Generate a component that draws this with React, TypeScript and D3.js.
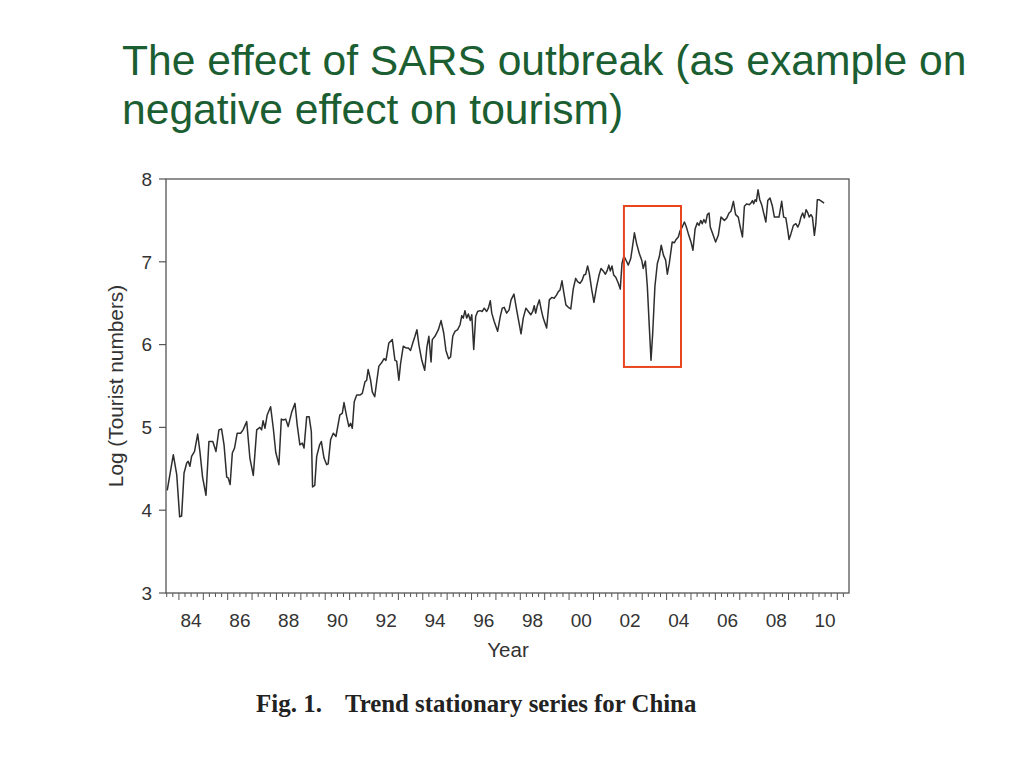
import React from "react";
import * as d3 from "d3";

const titleLines = ["The effect of SARS outbreak (as example on", "negative effect on tourism)"];
const captionLead = "Fig. 1.";
const captionText = "Trend stationary series for China";
const yAxisTitle = "Log (Tourist numbers)";
const xAxisTitle = "Year";

const labelYears = [1984, 1986, 1988, 1990, 1992, 1994, 1996, 1998, 2000, 2002, 2004, 2006, 2008, 2010];
const yTicks = [3, 4, 5, 6, 7, 8];
const xDomain = [1983.47, 2011.48];
const yDomain = [3, 8];

const boxYears = [2002.25, 2004.59];
const boxValues = [5.73, 7.674];

const years = [
  1983.52, 1983.77, 1983.91, 1984.03, 1984.11, 1984.21, 1984.32, 1984.38, 1984.45, 1984.52, 1984.64, 1984.77, 1984.86, 1984.97,
  1985.11, 1985.23, 1985.39, 1985.52, 1985.64, 1985.75, 1985.85, 1985.96, 1986.02, 1986.10, 1986.19, 1986.28, 1986.39, 1986.53,
  1986.63, 1986.78, 1986.91, 1987.05, 1987.19, 1987.32, 1987.39, 1987.45, 1987.53, 1987.62, 1987.76, 1987.87, 1987.97, 1988.10,
  1988.20, 1988.28, 1988.38, 1988.48, 1988.63, 1988.76, 1988.85, 1988.96, 1989.06, 1989.13, 1989.24, 1989.34, 1989.43, 1989.48,
  1989.57, 1989.65, 1989.77, 1989.84, 1989.95, 1990.06, 1990.12, 1990.22, 1990.33, 1990.44, 1990.60, 1990.70, 1990.77, 1990.88,
  1990.97, 1991.04, 1991.11, 1991.19, 1991.29, 1991.42, 1991.52, 1991.63, 1991.70, 1991.76, 1991.86, 1991.93, 1992.03, 1992.12,
  1992.20, 1992.31, 1992.41, 1992.49, 1992.61, 1992.75, 1992.86, 1992.93, 1993.02, 1993.09, 1993.20, 1993.31, 1993.41, 1993.50,
  1993.59, 1993.68, 1993.76, 1993.84, 1993.96, 1994.08, 1994.17, 1994.25, 1994.34, 1994.39, 1994.50, 1994.64, 1994.75, 1994.86,
  1994.95, 1995.06, 1995.14, 1995.23, 1995.32, 1995.43, 1995.53, 1995.60, 1995.66, 1995.73, 1995.80, 1995.87, 1995.95, 1996.01,
  1996.09, 1996.17, 1996.25, 1996.35, 1996.44, 1996.52, 1996.62, 1996.69, 1996.77, 1996.83, 1996.93, 1997.07, 1997.18, 1997.26,
  1997.34, 1997.44, 1997.54, 1997.62, 1997.74, 1997.85, 1997.95, 1998.03, 1998.12, 1998.23, 1998.33, 1998.43, 1998.51, 1998.57,
  1998.63, 1998.70, 1998.78, 1998.86, 1998.94, 1999.08, 1999.19, 1999.29, 1999.39, 1999.49, 1999.56, 1999.63, 1999.71, 1999.79,
  1999.87, 1999.97, 2000.07, 2000.17, 2000.27, 2000.35, 2000.45, 2000.54, 2000.61, 2000.68, 2000.76, 2000.83, 2000.93, 2001.02,
  2001.13, 2001.23, 2001.31, 2001.40, 2001.49, 2001.57, 2001.63, 2001.69, 2001.76, 2001.83, 2001.92, 2002.02, 2002.10, 2002.17,
  2002.25, 2002.35, 2002.43, 2002.53, 2002.59, 2002.68, 2002.77, 2002.88, 2002.98, 2003.04, 2003.13, 2003.21, 2003.29, 2003.36,
  2003.43, 2003.52, 2003.62, 2003.70, 2003.78, 2003.87, 2003.96, 2004.03, 2004.11, 2004.23, 2004.32, 2004.39, 2004.48, 2004.56,
  2004.64, 2004.73, 2004.80, 2004.89, 2005.00, 2005.08, 2005.17, 2005.26, 2005.33, 2005.40, 2005.46, 2005.53, 2005.60, 2005.67,
  2005.74, 2005.79, 2005.89, 2006.01, 2006.12, 2006.23, 2006.37, 2006.47, 2006.56, 2006.64, 2006.74, 2006.83, 2006.94, 2007.02,
  2007.11, 2007.19, 2007.29, 2007.39, 2007.46, 2007.52, 2007.57, 2007.63, 2007.68, 2007.75, 2007.82, 2007.90, 2007.98, 2008.07,
  2008.15, 2008.24, 2008.34, 2008.42, 2008.52, 2008.61, 2008.72, 2008.80, 2008.89, 2008.97, 2009.02, 2009.10, 2009.20, 2009.30,
  2009.38, 2009.44, 2009.51, 2009.58, 2009.65, 2009.72, 2009.79, 2009.85, 2009.92, 2009.98, 2010.06, 2010.12, 2010.18, 2010.25,
  2010.36, 2010.46,
];

const logTourists = [
  4.24, 4.67, 4.43, 3.92, 3.93, 4.45, 4.57, 4.59, 4.53, 4.65, 4.71, 4.92, 4.71, 4.40,
  4.18, 4.83, 4.83, 4.71, 4.97, 4.98, 4.79, 4.40, 4.39, 4.31, 4.69, 4.75, 4.93, 4.93,
  4.97, 5.07, 4.63, 4.42, 4.97, 5.00, 4.97, 5.08, 4.99, 5.15, 5.25, 4.99, 4.70, 4.55,
  5.10, 5.09, 5.10, 5.01, 5.19, 5.29, 5.03, 4.79, 4.81, 4.75, 5.13, 5.13, 4.95, 4.28,
  4.30, 4.65, 4.79, 4.83, 4.63, 4.55, 4.56, 4.85, 4.93, 4.89, 5.15, 5.17, 5.30, 5.13,
  5.01, 5.05, 4.99, 5.31, 5.39, 5.39, 5.41, 5.55, 5.57, 5.70, 5.57, 5.43, 5.37, 5.57,
  5.74, 5.78, 5.83, 5.81, 6.02, 6.06, 5.81, 5.80, 5.57, 5.77, 5.98, 5.96, 5.96, 5.93,
  6.02, 6.10, 6.18, 6.00, 5.81, 5.69, 5.97, 6.10, 5.79, 6.06, 6.10, 6.18, 6.29, 6.14,
  5.93, 5.83, 5.85, 6.10, 6.16, 6.18, 6.24, 6.35, 6.32, 6.41, 6.32, 6.37, 6.29, 6.36,
  5.94, 6.34, 6.40, 6.41, 6.40, 6.44, 6.40, 6.44, 6.53, 6.38, 6.28, 6.16, 6.34, 6.44,
  6.45, 6.38, 6.42, 6.54, 6.61, 6.42, 6.26, 6.13, 6.32, 6.44, 6.40, 6.36, 6.40, 6.47,
  6.38, 6.47, 6.54, 6.42, 6.32, 6.20, 6.54, 6.57, 6.56, 6.60, 6.64, 6.66, 6.77, 6.62,
  6.48, 6.45, 6.43, 6.67, 6.80, 6.76, 6.74, 6.78, 6.84, 6.85, 6.95, 6.86, 6.66, 6.51,
  6.70, 6.84, 6.92, 6.89, 6.85, 6.90, 6.96, 6.89, 6.95, 6.84, 6.81, 6.74, 6.67, 6.98,
  7.07, 7.01, 6.96, 7.04, 7.16, 7.35, 7.22, 7.10, 7.02, 6.92, 7.01, 6.70, 6.22, 5.81,
  6.14, 6.70, 6.98, 7.06, 7.20, 7.08, 7.02, 6.85, 6.98, 7.24, 7.23, 7.27, 7.30, 7.38,
  7.42, 7.48, 7.43, 7.34, 7.24, 7.14, 7.40, 7.47, 7.44, 7.50, 7.46, 7.51, 7.47, 7.57,
  7.59, 7.42, 7.34, 7.24, 7.32, 7.54, 7.50, 7.53, 7.59, 7.61, 7.73, 7.57, 7.54, 7.42,
  7.30, 7.67, 7.70, 7.69, 7.71, 7.74, 7.70, 7.75, 7.73, 7.87, 7.75, 7.69, 7.59, 7.48,
  7.74, 7.77, 7.67, 7.54, 7.54, 7.54, 7.73, 7.54, 7.53, 7.38, 7.27, 7.34, 7.44, 7.46,
  7.42, 7.46, 7.54, 7.59, 7.53, 7.63, 7.59, 7.54, 7.57, 7.54, 7.32, 7.46, 7.75, 7.75,
  7.73, 7.71,
];

const W = 1024;
const H = 768;
const plot = { left: 166, right: 849, top: 179, bottom: 593 };

export default function App() {
  const x = d3.scaleLinear().domain(xDomain).range([plot.left, plot.right]);
  const y = d3.scaleLinear().domain(yDomain).range([plot.bottom, plot.top]);

  const points = years.map((yr, i) => [yr, logTourists[i]] as [number, number]);
  const line = d3
    .line<[number, number]>()
    .x((d) => x(d[0]))
    .y((d) => y(d[1]));

  const quarterTicks = d3
    .range(Math.ceil(xDomain[0] * 4), Math.floor(xDomain[1] * 4) + 1)
    .map((q) => q / 4);

  const axisColor = "#555";
  const textColor = "#333";
  const font = "'Liberation Sans', Arial, sans-serif";
  const serif = "'Liberation Serif', 'Times New Roman', serif";

  return (
    <div style={{ position: "absolute", left: 0, top: 0 }}>
      <svg width={W} height={H} style={{ display: "block", background: "#fff" }}>
        {titleLines.map((t, i) => (
          <text
            key={i}
            x={122}
            y={75 + i * 49}
            fontFamily={font}
            fontSize={42.6}
            fill="#1b5e32"
          >
            {t}
          </text>
        ))}

        <rect
          x={plot.left}
          y={plot.top}
          width={plot.right - plot.left}
          height={plot.bottom - plot.top}
          fill="none"
          stroke={axisColor}
          strokeWidth={1.3}
        />

        {yTicks.map((v) => (
          <g key={v}>
            <line x1={plot.left - 7} x2={plot.left} y1={y(v)} y2={y(v)} stroke={axisColor} strokeWidth={1.2} />
            <text
              x={plot.left - 14}
              y={y(v)}
              dy="0.36em"
              textAnchor="end"
              fontFamily={font}
              fontSize={19}
              fill={textColor}
            >
              {v}
            </text>
          </g>
        ))}

        {quarterTicks.map((t) => {
          const major = Math.abs(t - Math.round(t)) < 1e-6;
          return (
            <line
              key={t}
              x1={x(t)}
              x2={x(t)}
              y1={plot.bottom}
              y2={plot.bottom + (major ? 7 : 4)}
              stroke={axisColor}
              strokeWidth={1}
            />
          );
        })}

        {labelYears.map((yr) => (
          <text
            key={yr}
            x={x(yr + 0.5)}
            y={627}
            textAnchor="middle"
            fontFamily={font}
            fontSize={19}
            fill={textColor}
          >
            {String(yr % 100).padStart(2, "0")}
          </text>
        ))}

        <text x={508} y={657} textAnchor="middle" fontFamily={font} fontSize={20.5} fill={textColor}>
          {xAxisTitle}
        </text>
        <text
          transform={`translate(123, ${(plot.top + plot.bottom) / 2}) rotate(-90)`}
          textAnchor="middle"
          fontFamily={font}
          fontSize={20.8}
          fill={textColor}
        >
          {yAxisTitle}
        </text>

        <path d={line(points) ?? ""} fill="none" stroke="#2e2e2e" strokeWidth={1.5} strokeLinejoin="round" />

        <rect
          x={x(boxYears[0])}
          y={y(boxValues[1])}
          width={x(boxYears[1]) - x(boxYears[0])}
          height={y(boxValues[0]) - y(boxValues[1])}
          fill="none"
          stroke="#e8451e"
          strokeWidth={2}
        />

        <text x={256} y={712} fontFamily={serif} fontWeight="bold" fontSize={25} fill="#222">
          {captionLead}
        </text>
        <text x={345} y={712} fontFamily={serif} fontWeight="bold" fontSize={24.8} fill="#222">
          {captionText}
        </text>
      </svg>
    </div>
  );
}
